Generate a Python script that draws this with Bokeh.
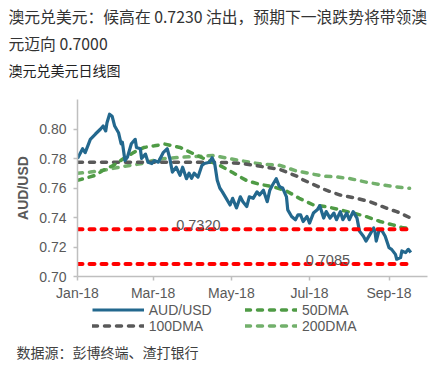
import pandas as pd
from bokeh.plotting import figure
from bokeh.layouts import column
from bokeh.models import (Range1d, FixedTicker, Label, Legend, LegendItem,
                          NumeralTickFormatter, DatetimeTickFormatter)
from bokeh.core.properties import value
from bokeh.embed import file_html
from bokeh.resources import INLINE

# ---------------- texts ----------------
title_line1 = "澳元兑美元：候高在 0.7230 沽出，预期下一浪跌势将带领澳"
title_line2 = "元迈向 0.7000"
subtitle = "澳元兑美元日线图"
source_text = "数据源：彭博终端、渣打银行"
y_label = "AUD/USD"
series_names = ["AUD/USD", "50DMA", "100DMA", "200DMA"]

# ---------------- data ----------------
aud_dates = ["01-01", "01-05", "01-07", "01-11", "01-15", "01-19", "01-21", "01-23", "01-24", "01-26",
             "01-28", "01-30", "02-02", "02-04", "02-05", "02-07", "02-09", "02-12", "02-15", "02-16",
             "02-19", "02-20", "02-23", "02-25", "02-28", "03-02", "03-05", "03-09", "03-12", "03-14",
             "03-16", "03-19", "03-22", "03-24", "03-27", "03-29", "03-31", "04-02", "04-05", "04-08",
             "04-10", "04-14", "04-16", "04-18", "04-20", "04-22", "04-24", "04-27", "04-30", "05-02",
             "05-05", "05-08", "05-10", "05-13", "05-15", "05-18", "05-21", "05-23", "05-26", "05-29",
             "05-31", "06-02", "06-05", "06-07", "06-08", "06-10", "06-13", "06-14", "06-17", "06-20",
             "06-22", "06-24", "06-26", "06-29", "07-01", "07-04", "07-07", "07-09", "07-12", "07-14",
             "07-17", "07-20", "07-22", "07-25", "07-27", "07-30", "08-01", "08-04", "08-07", "08-09",
             "08-12", "08-14", "08-17", "08-20", "08-21", "08-22", "08-24", "08-26", "08-29", "09-01",
             "09-03", "09-06", "09-07", "09-10", "09-11", "09-14", "09-16", "09-18"]
aud_values = [0.7800, 0.7866, 0.7840, 0.7930, 0.7966, 0.8000, 0.8020, 0.7987, 0.8042, 0.8100,
              0.8087, 0.8020, 0.7975, 0.7900, 0.7910, 0.7786, 0.7810, 0.7900, 0.7930, 0.7875,
              0.7866, 0.7800, 0.7830, 0.7775, 0.7766, 0.7786, 0.7775, 0.7842, 0.7866, 0.7800,
              0.7708, 0.7741, 0.7686, 0.7741, 0.7663, 0.7700, 0.7666, 0.7700, 0.7674, 0.7753,
              0.7766, 0.7775, 0.7805, 0.7766, 0.7652, 0.7600, 0.7574, 0.7530, 0.7485, 0.7530,
              0.7465, 0.7540, 0.7507, 0.7474, 0.7540, 0.7530, 0.7574, 0.7552, 0.7585, 0.7507,
              0.7585, 0.7619, 0.7663, 0.7619, 0.7607, 0.7600, 0.7540, 0.7452, 0.7407, 0.7385,
              0.7418, 0.7418, 0.7373, 0.7407, 0.7362, 0.7430, 0.7452, 0.7480, 0.7396, 0.7440,
              0.7396, 0.7430, 0.7385, 0.7440, 0.7385, 0.7430, 0.7385, 0.7440, 0.7396, 0.7306,
              0.7273, 0.7240, 0.7284, 0.7329, 0.7306, 0.7240, 0.7306, 0.7318, 0.7273, 0.7195,
              0.7184, 0.7150, 0.7117, 0.7128, 0.7173, 0.7162, 0.7184, 0.7162]

dma50_dates = ["01-01", "01-07", "01-15", "01-21", "01-29", "02-06", "02-14", "02-22", "03-02", "03-10",
               "03-22", "04-02", "04-13", "04-22", "05-02", "05-13", "05-23", "06-02", "06-13", "06-23",
               "07-04", "07-14", "07-25", "08-04", "08-14", "08-25", "09-04", "09-12", "09-18"]
dma50_values = [0.7652, 0.7666, 0.7686, 0.7720, 0.7753, 0.7800, 0.7842, 0.7875, 0.7886, 0.7898,
                0.7875, 0.7830, 0.7786, 0.7753, 0.7705, 0.7650, 0.7625, 0.7610, 0.7580, 0.7530,
                0.7485, 0.7474, 0.7452, 0.7430, 0.7407, 0.7373, 0.7350, 0.7330, 0.7325]

dma100_dates = ["01-01", "02-15", "03-31", "04-20", "05-08", "05-18", "06-01", "06-08", "06-21", "06-26",
                "07-14", "07-25", "08-07", "08-17", "08-30", "09-07", "09-17"]
dma100_values = [0.7775, 0.7775, 0.7775, 0.7775, 0.7768, 0.7755, 0.7735, 0.7725, 0.7680, 0.7655,
                 0.7585, 0.7552, 0.7530, 0.7507, 0.7463, 0.7440, 0.7400]

dma200_dates = ["01-01", "01-11", "01-21", "02-05", "02-19", "03-06", "03-22", "04-17", "05-08", "05-23",
                "06-08", "06-21", "07-12", "07-22", "08-02", "08-14", "08-24", "09-07", "09-17"]
dma200_values = [0.7700, 0.7708, 0.7720, 0.7745, 0.7764, 0.7797, 0.7808, 0.7820, 0.7786, 0.7764,
                 0.7753, 0.7715, 0.7680, 0.7675, 0.7663, 0.7640, 0.7625, 0.7607, 0.7598]

levels = [0.7320, 0.7085]
level_span = ["01-01", "09-20"]
level_label_dates = ["03-19", "06-28"]

x_start, x_end = "01-01", "10-01"
xtick_dates = ["01-01", "03-01", "05-01", "07-01", "09-01"]
yticks = [0.70, 0.72, 0.74, 0.76, 0.78, 0.80]
y_start, y_end = 0.70, 0.82

YEAR = "2018-"


def to_dt(lst):
    return pd.to_datetime([YEAR + d for d in lst])


def to_ms(d):
    return pd.Timestamp(YEAR + d).value / 1e6


series = {
    "AUD/USD": (aud_dates, aud_values),
    "50DMA": (dma50_dates, dma50_values),
    "100DMA": (dma100_dates, dma100_values),
    "200DMA": (dma200_dates, dma200_values),
}

# ---------------- colours / fonts ----------------
C_AUD = "#23688e"
C_50 = "#4f9b45"
C_100 = "#595959"
C_200 = "#72b06b"
C_RED = "#ff0000"
AX = "#bfbfbf"
TXT = "#595959"
LAT = "Liberation Sans"
CJK = "Noto Sans CJK SC"
W = 440
TOP_H = 99
MAIN_H = 204
BOT_H = 370 - TOP_H - MAIN_H
BOT_Y0 = TOP_H + MAIN_H

styles = {
    "AUD/USD": dict(line_color=C_AUD, line_width=3.2, line_join="round"),
    "50DMA": dict(line_color=C_50, line_width=3.5, line_dash="5 7", line_cap="round"),
    "100DMA": dict(line_color=C_100, line_width=3.5, line_dash="5 7", line_cap="round"),
    "200DMA": dict(line_color=C_200, line_width=3.5, line_dash="5 7", line_cap="round"),
}


def blank(height):
    f = figure(width=W, height=height, x_range=Range1d(0, W), y_range=Range1d(height, 0),
               output_backend="svg", toolbar_location=None,
               x_axis_location=None, y_axis_location=None,
               min_border=0, min_border_left=0, min_border_right=0,
               min_border_top=0, min_border_bottom=0, frame_align=False)
    f.outline_line_color = None
    f.grid.visible = False
    return f


# ---------------- title block ----------------
top = blank(TOP_H)
top.text(x=[8, 8], y=[15.5, 43], text=[title_line1, title_line2],
         text_font=value(CJK), text_font_size="15.8px", text_color="#333333",
         text_baseline="middle", text_align="left")
top.text(x=[8], y=[69.5], text=[subtitle],
         text_font=value(CJK), text_font_size="14px", text_color="#222222",
         text_baseline="middle", text_align="left")

# ---------------- main chart ----------------
p = figure(width=W, height=MAIN_H, x_axis_type="datetime",
           x_range=Range1d(to_ms(x_start), to_ms(x_end)),
           y_range=Range1d(y_start, y_end),
           output_backend="svg", toolbar_location=None, frame_align=False,
           min_border_left=77, min_border_right=13, min_border_top=0, min_border_bottom=26)
p.outline_line_color = None
p.grid.visible = False

for name in ["200DMA", "100DMA", "50DMA", "AUD/USD"]:
    d, v = series[name]
    p.line(to_dt(d), v, **styles[name])

for lv, ld in zip(levels, level_label_dates):
    p.line(to_dt(level_span), [lv, lv], line_color=C_RED, line_width=4,
           line_dash="5 7", line_cap="round")
    p.add_layout(Label(x=to_ms(ld), y=lv + 0.0028, text=f"{lv:.4f}",
                       text_font=LAT, text_font_size="14.5px", text_color=TXT,
                       text_align="left", text_baseline="alphabetic"))

p.xaxis.ticker = FixedTicker(ticks=[to_ms(d) for d in xtick_dates])
p.xaxis.formatter = DatetimeTickFormatter(days="%b-%y", months="%b-%y", years="%b-%y")
p.yaxis.ticker = FixedTicker(ticks=yticks)
p.yaxis.formatter = NumeralTickFormatter(format="0.00")
for ax in (p.xaxis[0], p.yaxis[0]):
    ax.axis_line_color = AX
    ax.axis_line_width = 1.5
    ax.major_tick_line_color = AX
    ax.major_tick_line_width = 1.5
    ax.major_tick_out = 4
    ax.major_tick_in = 0
    ax.minor_tick_line_color = None
    ax.major_label_text_font = LAT
    ax.major_label_text_font_size = "14px"
    ax.major_label_text_color = TXT
p.yaxis.major_label_standoff = 7
p.xaxis.major_label_standoff = 4
p.yaxis.axis_label = y_label
p.yaxis.axis_label_text_font = LAT
p.yaxis.axis_label_text_font_size = "14px"
p.yaxis.axis_label_text_font_style = "bold"
p.yaxis.axis_label_text_color = TXT
p.yaxis.axis_label_standoff = 5

# ---------------- legend + source ----------------
bot = blank(BOT_H)
swatch = {}
for name in series_names:
    d, v = series[name]
    swatch[name] = bot.line(to_dt(d), v, visible=False, **styles[name])
leg_common = dict(orientation="vertical", padding=0, spacing=0, margin=0,
                  label_height=15, glyph_height=15, glyph_width=52, label_standoff=5,
                  border_line_color=None, background_fill_alpha=0, inactive_fill_alpha=0,
                  label_text_font=LAT, label_text_font_size="14px", label_text_color=TXT)
col1 = ["AUD/USD", "100DMA"]
col2 = ["50DMA", "200DMA"]
leg_bottom = BOT_H - (333.5 - BOT_Y0)
bot.add_layout(Legend(items=[LegendItem(label=n, renderers=[swatch[n]]) for n in col1],
                      location=(91.7, leg_bottom), **leg_common))
bot.add_layout(Legend(items=[LegendItem(label=n, renderers=[swatch[n]]) for n in col2],
                      location=(245, leg_bottom), **leg_common))
bot.text(x=[16], y=[351.7 - BOT_Y0], text=[source_text],
         text_font=value(CJK), text_font_size="14px", text_color="#404040",
         text_baseline="middle", text_align="left")

layout = column(top, p, bot, spacing=0)
open("out.html", "w").write(file_html(layout, INLINE))
